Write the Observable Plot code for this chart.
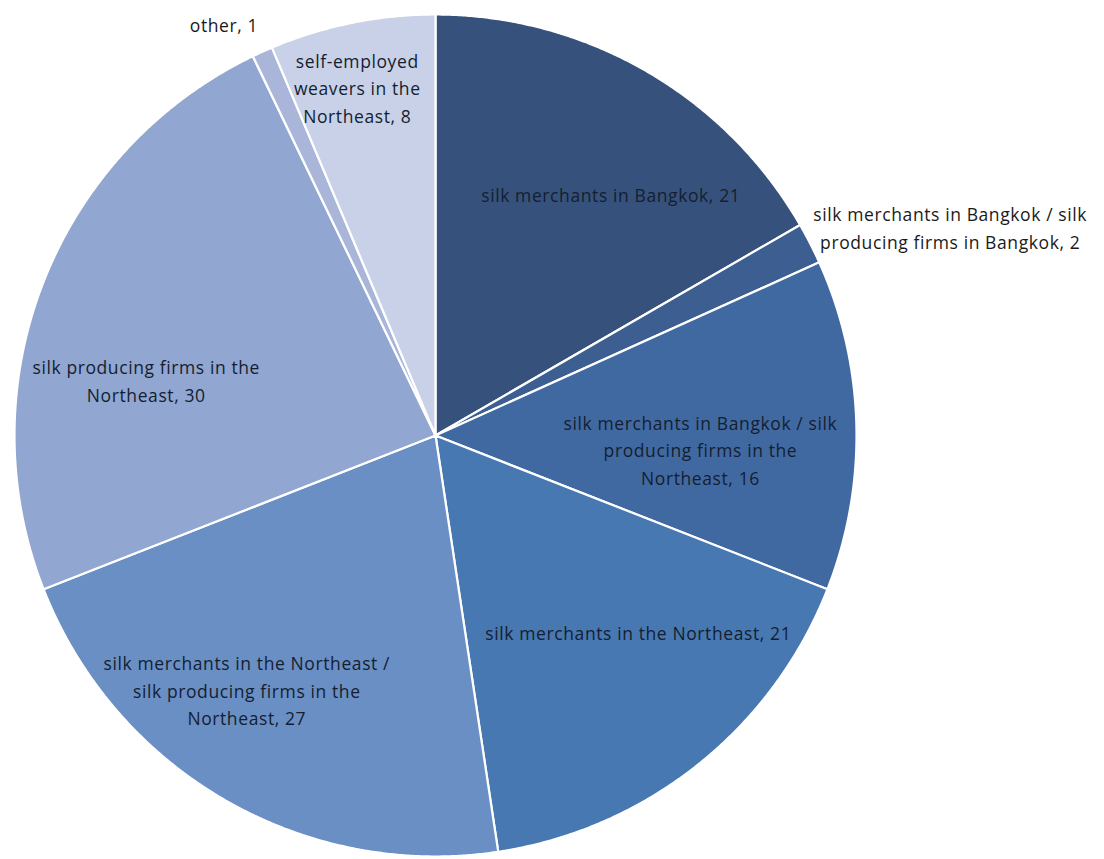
<!DOCTYPE html>
<html>
<head>
<meta charset="utf-8">
<script src="https://cdn.jsdelivr.net/npm/d3@7"></script>
<script src="https://cdn.jsdelivr.net/npm/@observablehq/plot@0.6"></script>
<style>
  html, body { margin: 0; padding: 0; background: #fff; }
  #chart svg { display: block; }
  #chart svg text { letter-spacing: 0.6px; }
</style>
</head>
<body>
<div id="chart"></div>
<script>
// ---- data ----
const categories = [
  "silk merchants in Bangkok",
  "silk merchants in Bangkok / silk producing firms in Bangkok",
  "silk merchants in Bangkok / silk producing firms in the Northeast",
  "silk merchants in the Northeast",
  "silk merchants in the Northeast / silk producing firms in the Northeast",
  "silk producing firms in the Northeast",
  "other",
  "self-employed weavers in the Northeast"
];
const values = [21, 2, 16, 21, 27, 30, 1, 8];
const labelLines = [
  "silk merchants in Bangkok, 21",
  "silk merchants in Bangkok / silk\nproducing firms in Bangkok, 2",
  "silk merchants in Bangkok / silk\nproducing firms in the\nNortheast, 16",
  "silk merchants in the Northeast, 21",
  "silk merchants in the Northeast /\nsilk producing firms in the\nNortheast, 27",
  "silk producing firms in the\nNortheast, 30",
  "other, 1",
  "self-employed\nweavers in the\nNortheast, 8"
];
const colors = ["#36527c", "#3c5e90", "#4169a1", "#4878b2", "#6a8fc4", "#91a6d0", "#a9b6d9", "#c8d1e8"];

// ---- layout (label placement relative to slice: radius fraction, angle shift in degrees) ----
const labelRadius = [0.71, 1.32, 0.63, 0.67, 0.75, 0.70, 1.10, 0.85];
const labelShift  = [5.9, 5.0, 4.2, -7.4, 6.7, -10.4, -2.9, -1.2];
const insideLabel = [true, false, true, true, true, true, false, true];

// ---- geometry via d3.pie ----
const arcs = d3.pie().sort(null).value(d => d)(values);
const slicePts = [];
arcs.forEach((a, i) => {
  const n = Math.max(2, Math.ceil((a.endAngle - a.startAngle) / 0.005));
  slicePts.push({k: categories[i], x: 0, y: 0});
  for (let j = 0; j <= n; j++) {
    const t = a.startAngle + (a.endAngle - a.startAngle) * j / n;
    slicePts.push({k: categories[i], x: Math.sin(t), y: Math.cos(t)});
  }
  slicePts.push({k: categories[i], x: 0, y: 0});
});
const labels = arcs.map((a, i) => {
  const mid = (a.startAngle + a.endAngle) / 2 + labelShift[i] * Math.PI / 180;
  return {
    text: labelLines[i],
    x: labelRadius[i] * Math.sin(mid),
    y: labelRadius[i] * Math.cos(mid),
    inside: insideLabel[i]
  };
});

const chart = Plot.plot({
  width: 1104,
  height: 859,
  margin: 0,
  x: {domain: [-1, 1], range: [14, 856], axis: null},
  y: {domain: [-1, 1], range: [856, 14], axis: null},
  color: {domain: categories, range: colors},
  style: {fontFamily: "'Open Sans', Lato, sans-serif", background: "#fff"},
  marks: [
    Plot.line(slicePts, {
      x: "x", y: "y", z: "k", fill: "k",
      stroke: "#ffffff", strokeWidth: 2.2, strokeLinejoin: "round", curve: "linear"
    }),
    Plot.text(labels, {
      x: "x", y: "y", text: "text",
      fontSize: 17.5, lineHeight: 1.58,
      fill: d => d.inside ? "#141e30" : "#1a1a1a",
      textAnchor: "middle"
    })
  ]
});
document.getElementById("chart").appendChild(chart);
</script>
</body>
</html>
